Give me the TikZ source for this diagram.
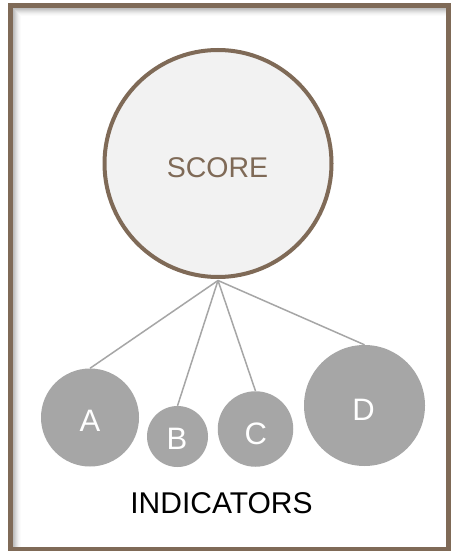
\documentclass[tikz,border=0pt]{standalone}
\usepackage{fontspec}
\setmainfont{Liberation Sans}
\definecolor{framebrown}{HTML}{7F6A57}
\definecolor{scorefill}{HTML}{F2F2F2}
\definecolor{indgray}{HTML}{A6A6A6}
\definecolor{shadowgray}{HTML}{BDBDBD}
\begin{document}
\begin{tikzpicture}[x=1pt,y=-1pt,
  scorefont/.style={font=\fontsize{28.5}{34}\selectfont},
  letterfont/.style={font=\fontsize{31}{36}\selectfont},
  scorecircle/.style={circle,draw=framebrown,line width=4pt,fill=scorefill,inner sep=0pt,minimum size=#1},
  indcircle/.style={circle,fill=indgray,inner sep=0pt,minimum size=#1},
  indlabel/.style={letterfont,text=white,inner sep=0pt},
  link/.style={draw=indgray,line width=1.5pt}
]
\useasboundingbox (0,0) rectangle (453,553);
\fill[white] (0,0) rectangle (453,553);
% inner shadow on top and left
\foreach \i/\o in {0/1,1/0.85,2/0.68,3/0.5,4/0.35,5/0.22,6/0.12,7/0.05}{
  \draw[shadowgray,opacity=\o,line width=1pt]
    (13.2+\i+0.5,546.5) -- (13.2+\i+0.5,7.7+\i+0.5) -- (446,7.7+\i+0.5);
}
\draw[framebrown,line width=4.6pt] (10.5,5.3) rectangle (448.7,548.8);

\node[scorecircle=227pt] (SCORE) at (218,163.5) {};
\node[scorefont,text=framebrown,inner sep=0pt] (scoretext) at (217.5,168) {SCORE};

\node[indcircle=98pt] (A) at (90,417.5) {};
\node[indcircle=61pt] (B) at (177.5,436.5) {};
\node[indcircle=75.5pt] (C) at (255.5,429) {};
\node[indcircle=121pt] (D) at (364.5,405.5) {};

\node[indlabel] (Alab) at (90,420.5) {A};
\node[indlabel] (Blab) at (177,439) {B};
\node[indlabel] (Clab) at (255.7,433.5) {C};
\node[indlabel] (Dlab) at (363.5,409.5) {D};

\coordinate (hub) at ([yshift=-1.5pt]SCORE.south);
\draw[link] (hub) -- (A.north);
\draw[link] (hub) -- (B.north);
\draw[link] (hub) -- (C.north);
\draw[link] (hub) -- (D.north);

\node[font=\fontsize{30}{36}\selectfont,text=black,inner sep=0pt] (ind) at (221.5,503.3) {INDICATORS};
\end{tikzpicture}
\end{document}
